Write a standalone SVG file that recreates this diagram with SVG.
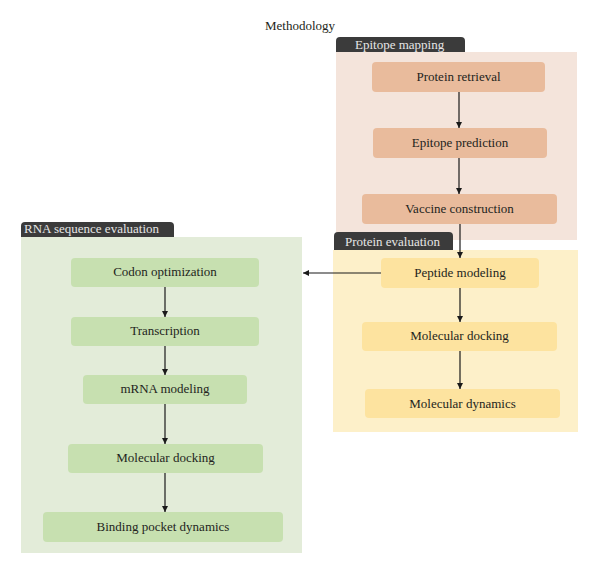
<svg xmlns="http://www.w3.org/2000/svg" width="600" height="575" viewBox="0 0 600 575">
<style>
text{font-family:"Liberation Serif","Times New Roman",serif;}
.lbl{font-size:13px;fill:#231f20;text-anchor:middle;}
.tab{fill:#3b3b3b;}
.tabt{font-size:13px;fill:#e6e6e6;}
.ep{fill:#e9bb9c;}
.pe{fill:#fde39f;}
.rn{fill:#c7e0b0;}
.con line{stroke:#1a1a1a;stroke-width:1.2;}
</style>
<defs>
<marker id="ah" viewBox="0 0 10 10" refX="10" refY="5" markerWidth="6" markerHeight="6" orient="auto" markerUnits="userSpaceOnUse">
<path d="M0,0 L10,5 L0,10 z" fill="#1a1a1a"/>
</marker>
</defs>
<rect width="600" height="575" fill="#ffffff"/>
<text x="300" y="30" text-anchor="middle" style="font-size:13px;fill:#231f20">Methodology</text>

<g id="panel-epitope">
<rect x="336" y="52" width="241" height="188" fill="#f4e4db"/>
<path d="M336,52 V41 Q336,37 340,37 H461 Q465,37 465,41 V52 Z" class="tab"/>
<text x="355" y="49" class="tabt">Epitope mapping</text>
</g>
<g id="panel-protein">
<rect x="333" y="250" width="245" height="182" fill="#fdf0c9"/>
<path d="M334,250 V236 Q334,232 338,232 H449 Q453,232 453,236 V250 Z" class="tab"/>
<text x="345" y="246" class="tabt">Protein evaluation</text>
</g>
<g id="panel-rna">
<rect x="21" y="237" width="281" height="316" fill="#e3ecd9"/>
<path d="M21,237 V226 Q21,222 25,222 H170 Q174,222 174,226 V237 Z" class="tab"/>
<text x="24" y="233" class="tabt">RNA sequence evaluation</text>
</g>

<g id="n-protein-retrieval"><rect x="372" y="62" width="173" height="30" rx="4" class="ep"/><text x="458.5" y="81" class="lbl">Protein retrieval</text></g>
<g id="n-epitope-prediction"><rect x="373" y="128" width="174" height="30" rx="4" class="ep"/><text x="460" y="147" class="lbl">Epitope prediction</text></g>
<g id="n-vaccine-construction"><rect x="362" y="194" width="195" height="30" rx="4" class="ep"/><text x="459.5" y="213" class="lbl">Vaccine construction</text></g>

<g id="n-peptide-modeling"><rect x="381" y="258" width="158" height="30" rx="4" class="pe"/><text x="460" y="277" class="lbl">Peptide modeling</text></g>
<g id="n-molecular-docking-p"><rect x="362" y="322" width="195" height="29" rx="4" class="pe"/><text x="459.5" y="340" class="lbl">Molecular docking</text></g>
<g id="n-molecular-dynamics"><rect x="365" y="389" width="195" height="29" rx="4" class="pe"/><text x="462.5" y="408" class="lbl">Molecular dynamics</text></g>

<g id="n-codon-optimization"><rect x="71" y="258" width="188" height="29" rx="4" class="rn"/><text x="165" y="276" class="lbl">Codon optimization</text></g>
<g id="n-transcription"><rect x="71" y="317" width="188" height="29" rx="4" class="rn"/><text x="165" y="335" class="lbl">Transcription</text></g>
<g id="n-mrna-modeling"><rect x="83" y="375" width="164" height="29" rx="4" class="rn"/><text x="165" y="393" class="lbl">mRNA modeling</text></g>
<g id="n-molecular-docking-r"><rect x="68" y="444" width="195" height="29" rx="4" class="rn"/><text x="165.5" y="462" class="lbl">Molecular docking</text></g>
<g id="n-binding-pocket"><rect x="43" y="512" width="240" height="30" rx="4" class="rn"/><text x="163" y="531" class="lbl">Binding pocket dynamics</text></g>

<g id="connectors" class="con">
<line x1="459" y1="92" x2="459" y2="128" marker-end="url(#ah)"/>
<line x1="459" y1="158" x2="459" y2="194" marker-end="url(#ah)"/>
<line x1="460" y1="224" x2="460" y2="258" marker-end="url(#ah)"/>
<line x1="460" y1="288" x2="460" y2="322" marker-end="url(#ah)"/>
<line x1="460" y1="351" x2="460" y2="389" marker-end="url(#ah)"/>
<line x1="381" y1="273" x2="303" y2="273" marker-end="url(#ah)"/>
<line x1="165" y1="287" x2="165" y2="317" marker-end="url(#ah)"/>
<line x1="165" y1="346" x2="165" y2="375" marker-end="url(#ah)"/>
<line x1="165" y1="404" x2="165" y2="444" marker-end="url(#ah)"/>
<line x1="165" y1="473" x2="165" y2="512" marker-end="url(#ah)"/>
</g>
</svg>
